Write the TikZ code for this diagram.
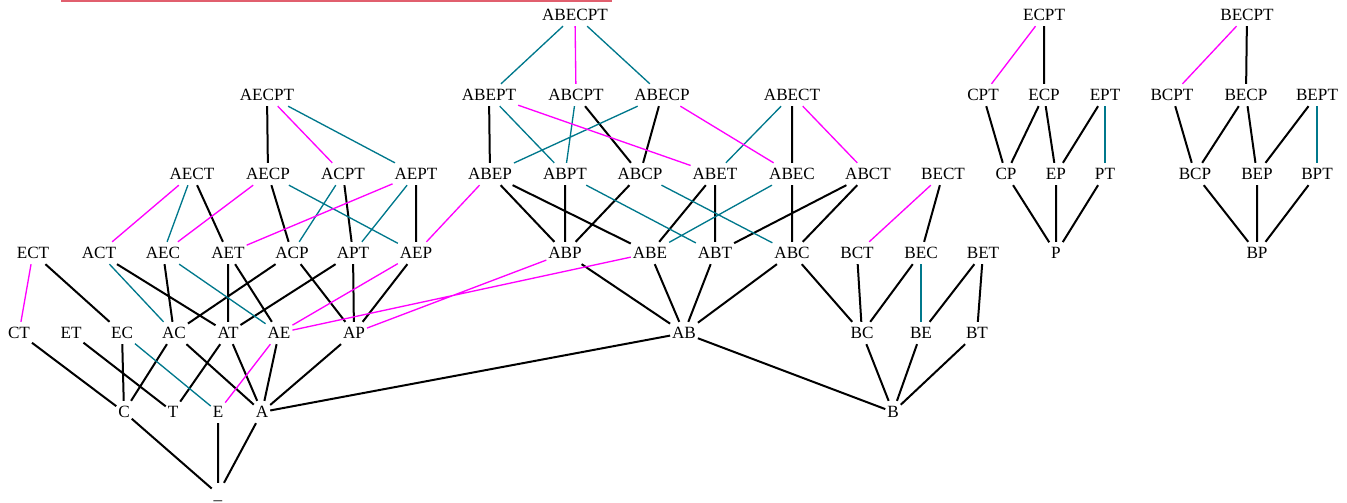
\documentclass[tikz,border=0pt]{standalone}
\usepackage{fontspec}
\setmainfont{Liberation Serif}
\definecolor{edgeteal}{RGB}{0,120,140}
\definecolor{edgemag}{RGB}{255,0,255}
\definecolor{topbar}{RGB}{225,95,110}

\begin{document}
\begin{tikzpicture}[x=0.6pt, y=-0.6pt,
    set/.style={inner xsep=1pt, inner ysep=3pt, text height=7pt, text depth=0pt, font=\fontsize{10.3}{12}\selectfont},
    bk/.style={black, line width=1.2pt},
    tq/.style={edgeteal, line width=0.8pt},
    mg/.style={edgemag, line width=0.8pt}]
    \useasboundingbox (0,0) rectangle (1347,502) ;
    \draw [topbar, line width=1.4pt] (61,1) -- (612,1) ;

    % top row
    \node [set] (ABECPT) at (575,15) {ABECPT} ;
    \node [set] (ECPT) at (1044,15) {ECPT} ;
    \node [set] (BECPT) at (1247,15) {BECPT} ;

    % five letters
    \node [set] (AECPT) at (267,95) {AECPT} ;
    \node [set] (ABEPT) at (489,95) {ABEPT} ;
    \node [set] (ABCPT) at (576,95) {ABCPT} ;
    \node [set] (ABECP) at (662,95) {ABECP} ;
    \node [set] (ABECT) at (792,95) {ABECT} ;
    \node [set] (CPT) at (983,95) {CPT} ;
    \node [set] (ECP) at (1044,95) {ECP} ;
    \node [set] (EPT) at (1105,95) {EPT} ;
    \node [set] (BCPT) at (1172,95) {BCPT} ;
    \node [set] (BECP) at (1246,95) {BECP} ;
    \node [set] (BEPT) at (1317,95) {BEPT} ;

    % four letters
    \node [set] (AECT) at (192,174) {AECT} ;
    \node [set] (AECP) at (268,174) {AECP} ;
    \node [set] (ACPT) at (343,174) {ACPT} ;
    \node [set] (AEPT) at (416,174) {AEPT} ;
    \node [set] (ABEP) at (490,174) {ABEP} ;
    \node [set] (ABPT) at (565,174) {ABPT} ;
    \node [set] (ABCP) at (640,174) {ABCP} ;
    \node [set] (ABET) at (715,174) {ABET} ;
    \node [set] (ABEC) at (792,174) {ABEC} ;
    \node [set] (ABCT) at (868,174) {ABCT} ;
    \node [set] (BECT) at (943,174) {BECT} ;
    \node [set] (CP) at (1006,174) {CP} ;
    \node [set] (EP) at (1056,174) {EP} ;
    \node [set] (PT) at (1105,174) {PT} ;
    \node [set] (BCP) at (1195,174) {BCP} ;
    \node [set] (BEP) at (1257,174) {BEP} ;
    \node [set] (BPT) at (1317,174) {BPT} ;

    % three letters
    \node [set] (ECT) at (33,253) {ECT} ;
    \node [set] (ACT) at (99,253) {ACT} ;
    \node [set] (AEC) at (163,253) {AEC} ;
    \node [set] (AET) at (228,253) {AET} ;
    \node [set] (ACP) at (292,253) {ACP} ;
    \node [set] (APT) at (353,253) {APT} ;
    \node [set] (AEP) at (416,253) {AEP} ;
    \node [set] (ABP) at (565,253) {ABP} ;
    \node [set] (ABE) at (650,253) {ABE} ;
    \node [set] (ABT) at (715,253) {ABT} ;
    \node [set] (ABC) at (792,253) {ABC} ;
    \node [set] (BCT) at (857,253) {BCT} ;
    \node [set] (BEC) at (921,253) {BEC} ;
    \node [set] (BET) at (983,253) {BET} ;
    \node [set] (P) at (1056,253) {P} ;
    \node [set] (BP) at (1257,253) {BP} ;

    % two letters
    \node [set] (CT) at (19,333) {CT} ;
    \node [set] (ET) at (71,333) {ET} ;
    \node [set] (EC) at (122,333) {EC} ;
    \node [set] (AC) at (174,333) {AC} ;
    \node [set] (AT) at (228,333) {AT} ;
    \node [set] (AE) at (279,333) {AE} ;
    \node [set] (AP) at (354,333) {AP} ;
    \node [set] (AB) at (684,333) {AB} ;
    \node [set] (BC) at (862,333) {BC} ;
    \node [set] (BE) at (921,333) {BE} ;
    \node [set] (BT) at (977,333) {BT} ;

    % one letter
    \node [set] (C) at (124,412) {C} ;
    \node [set] (T) at (173,412) {T} ;
    \node [set] (E) at (218,412) {E} ;
    \node [set] (A) at (262,412) {A} ;
    \node [set] (B) at (893,412) {B} ;
    \node [set] (none) at (218,494) {\_} ;

    % black edges
    \draw [bk] (AECPT) -- (AECP) (AECT) -- (AET) (AECP) -- (ACP) (ACPT) -- (APT) (AEPT) -- (AEP) ;
    \draw [bk] (ECT) -- (EC) (ACT) -- (AT) (AEC) -- (AC) (AET) -- (AT) (AET) -- (AE)
        (ACP) -- (AC) (ACP) -- (AP) (APT) -- (AT) (APT) -- (AP) (AEP) -- (AP) ;
    \draw [bk] (CT) -- (C) (ET) -- (T) (EC) -- (C) (AC) -- (C) (AC) -- (A) (AT) -- (T) (AT) -- (A)
        (AE) -- (A) (AP) -- (A) (AB) -- (A) (AB) -- (B) ;
    \draw [bk] (C) -- (none) (E) -- (none) (A) -- (none) ;
    \draw [bk] (ABEPT) -- (ABEP) (ABCPT) -- (ABCP) (ABECP) -- (ABCP) (ABECT) -- (ABEC) ;
    \draw [bk] (ABEP) -- (ABP) (ABEP) -- (ABE) (ABPT) -- (ABP) (ABCP) -- (ABP) (ABET) -- (ABE)
        (ABET) -- (ABT) (ABEC) -- (ABC) (ABCT) -- (ABT) (ABCT) -- (ABC) ;
    \draw [bk] (ABP) -- (AB) (ABE) -- (AB) (ABT) -- (AB) (ABC) -- (AB) (ABC) -- (BC) ;
    \draw [bk] (BECT) -- (BEC) (BCT) -- (BC) (BEC) -- (BC) (BET) -- (BE) (BET) -- (BT)
        (BC) -- (B) (BE) -- (B) (BT) -- (B) ;
    \draw [bk] (ECPT) -- (ECP) (CPT) -- (CP) (ECP) -- (CP) (ECP) -- (EP) (EPT) -- (EP)
        (CP) -- (P) (EP) -- (P) (PT) -- (P) ;
    \draw [bk] (BECPT) -- (BECP) (BCPT) -- (BCP) (BECP) -- (BCP) (BECP) -- (BEP) (BEPT) -- (BEP)
        (BCP) -- (BP) (BEP) -- (BP) (BPT) -- (BP) ;

    % teal edges
    \draw [tq] (AECPT) -- (AEPT) (AECT) -- (AEC) (AECP) -- (AEP) (ACPT) -- (ACP) (AEPT) -- (APT) ;
    \draw [tq] (ACT) -- (AC) (AEC) -- (AE) (EC) -- (E) ;
    \draw [tq] (ABECPT) -- (ABEPT) (ABECPT) -- (ABECP) (ABEPT) -- (ABPT) (ABCPT) -- (ABPT)
        (ABECP) -- (ABEP) (ABECT) -- (ABET) ;
    \draw [tq] (ABPT) -- (ABT) (ABCP) -- (ABC) (ABEC) -- (ABE) ;
    \draw [tq] (BEC) -- (BE) (EPT) -- (PT) (BEPT) -- (BPT) ;

    % magenta edges
    \draw [mg] (AECPT) -- (ACPT) (AECT) -- (ACT) (AECP) -- (AEC) (AEPT) -- (AET) (ABEP) -- (AEP) ;
    \draw [mg] (ECT) -- (CT) (AEP) -- (AE) (ABP) -- (AP) (ABE) -- (AE) (AE) -- (E) ;
    \draw [mg] (ABECPT) -- (ABCPT) (ABEPT) -- (ABET) (ABECP) -- (ABEC) (ABECT) -- (ABCT) ;
    \draw [mg] (BECT) -- (BCT) (ECPT) -- (CPT) (BECPT) -- (BCPT) ;
\end{tikzpicture}
\end{document}
